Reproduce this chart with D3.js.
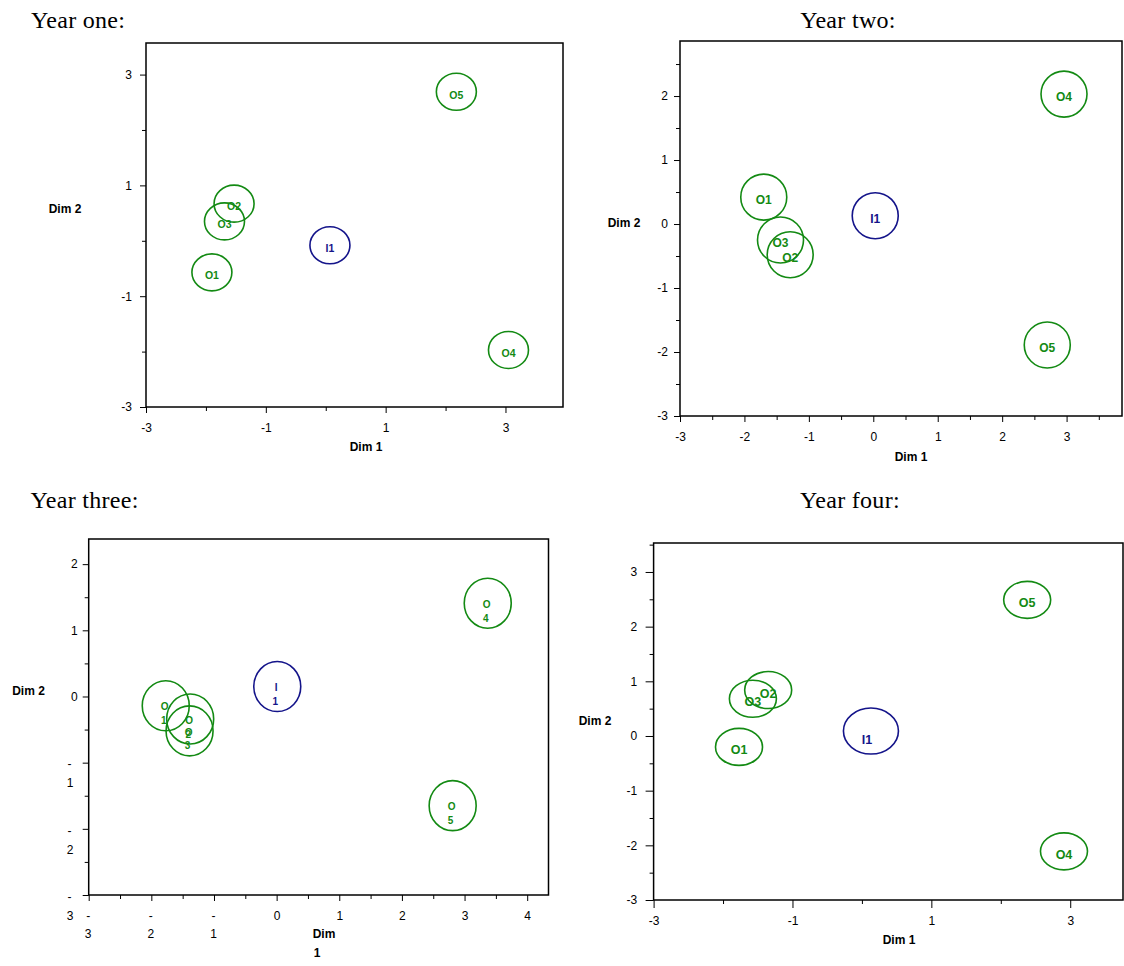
<!DOCTYPE html>
<html>
<head>
<meta charset="utf-8">
<script src="https://cdn.jsdelivr.net/npm/d3@7"></script>
<style>
  body { margin: 0; background: #fff; }
  svg { display: block; }
  .tick text, .wrap-label { font-family: "Liberation Sans", Arial, sans-serif; font-size: 12px; fill: #000; }
  .tick line { stroke: #000; }
  .axis-title { font-family: "Liberation Sans", Arial, sans-serif; font-size: 12px; font-weight: bold; }
  .year { font-family: "Liberation Serif", serif; font-size: 24px; letter-spacing: 0.3px; }
</style>
</head>
<body>
<svg id="chart" width="1124" height="966"></svg>
<script>
// points (same order in every year)
const names = ["I1", "O1", "O2", "O3", "O4", "O5"];

const year1X = [0.07, -1.90, -1.53, -1.69, 3.05, 2.18];
const year1Y = [-0.08, -0.57, 0.67, 0.35, -1.97, 2.69];
const year2X = [0.03, -1.70, -1.29, -1.44, 2.96, 2.70];
const year2Y = [0.13, 0.42, -0.48, -0.25, 2.03, -1.89];
const year3X = [0.01, -1.77, -1.38, -1.39, 3.37, 2.81];
const year3Y = [0.15, -0.14, -0.34, -0.52, 1.41, -1.65];
const year4X = [0.13, -1.77, -1.35, -1.57, 2.91, 2.38];
const year4Y = [0.09, -0.20, 0.84, 0.68, -2.11, 2.49];

// tick labels
const xTicks1 = [-3, -1, 1, 3];
const yTicks1 = [-3, -1, 1, 3];
const xMinor1 = [-2, 0, 2];
const yMinor1 = [-2, 0, 2];
const xTicks2 = [-3, -2, -1, 0, 1, 2, 3];
const yTicks2 = [-3, -2, -1, 0, 1, 2];
const xMinor2 = [-2.5, -1.5, -0.5, 0.5, 1.5, 2.5, 3.5];
const yMinor2 = [-2.5, -1.5, -0.5, 0.5, 1.5, 2.5];
const xTicks3 = [-3, -2, -1, 0, 1, 2, 3, 4];
const yTicks3 = [-3, -2, -1, 0, 1, 2];
const xMinor3 = [-2.5, -1.5, -0.5, 0.5, 1.5, 2.5, 3.5];
const yMinor3 = [-2.5, -1.5, -0.5, 0.5, 1.5];
const xTicks4 = [-3, -1, 1, 3];
const yTicks4 = [-3, -2, -1, 0, 1, 2, 3];
const xMinor4 = [-2, 0, 2];
const yMinor4 = [-2.5, -1.5, -0.5, 0.5, 1.5, 2.5, 3.5];

const green = "#138a13";
const navy = "#14148a";

const svg = d3.select("#chart");

const panels = [
  { title: "Year one:", xs: year1X, ys: year1Y, xTicks: xTicks1, yTicks: yTicks1, xMinor: xMinor1, yMinor: yMinor1,
    xMax: 3.96, yMax: 3.57, box: [146, 43, 563, 407], tick: 6, yPad: 8, r: [20, 18.5], fs: 10.5,
    titleAt: [31, 28, "start"], dim1: [366, 451], dim2: [65, 213] },
  { title: "Year two:", xs: year2X, ys: year2Y, xTicks: xTicks2, yTicks: yTicks2, xMinor: xMinor2, yMinor: yMinor2,
    xMax: 3.86, yMax: 2.86, box: [680, 41, 1122, 416], tick: 6, yPad: 6, r: [23, 23], fs: 12,
    titleAt: [848, 28, "middle"], dim1: [911, 461], dim2: [624, 227] },
  { title: "Year three:", xs: year3X, ys: year3Y, xTicks: xTicks3, yTicks: yTicks3, xMinor: xMinor3, yMinor: yMinor3,
    xMax: 4.34, yMax: 2.38, box: [88.7, 539, 548.5, 895], tick: 6, yPad: 5, r: [23.5, 25], fs: 10, wrap: true,
    titleAt: [30.5, 508, "start"], dim2: [28.5, 695] },
  { title: "Year four:", xs: year4X, ys: year4Y, xTicks: xTicks4, yTicks: yTicks4, xMinor: xMinor4, yMinor: yMinor4,
    xMax: 3.76, yMax: 3.53, box: [653.6, 543, 1123, 900], tick: 8, yPad: 8.5, r: [23.5, 18.5], fs: 12.5,
    titleAt: [850, 508, "middle"], dim1: [899, 944], dim2: [595, 725],
    big: { I1: [27.5, 23] }, nudge: { I1: [-4, 5] } }
];

function drawPanel(p) {
  const [L, T, R, B] = p.box;
  const g = svg.append("g");
  const x = d3.scaleLinear().domain([-3, p.xMax]).range([L, R]);
  const y = d3.scaleLinear().domain([-3, p.yMax]).range([B, T]);

  g.append("text").attr("class", "year")
    .attr("x", p.titleAt[0]).attr("y", p.titleAt[1]).attr("text-anchor", p.titleAt[2])
    .text(p.title);

  // minor ticks
  g.append("g").attr("transform", `translate(0,${B})`)
    .call(d3.axisBottom(x).tickValues(p.xMinor).tickSize(4).tickFormat(""))
    .call(a => a.select(".domain").remove());
  g.append("g").attr("transform", `translate(${L},0)`)
    .call(d3.axisLeft(y).tickValues(p.yMinor).tickSize(4).tickFormat(""))
    .call(a => a.select(".domain").remove());

  // major ticks
  const fmt = d => p.wrap && d < 0 ? "" : String(d);
  const xa = g.append("g").attr("transform", `translate(0,${B})`)
    .call(d3.axisBottom(x).tickValues(p.xTicks).tickSize(p.tick).tickPadding(21 - 4.3 - p.tick).tickFormat(fmt))
    .call(a => a.select(".domain").remove());
  const ya = g.append("g").attr("transform", `translate(${L},0)`)
    .call(d3.axisLeft(y).tickValues(p.yTicks).tickSize(p.tick).tickPadding(p.yPad).tickFormat(fmt))
    .call(a => a.select(".domain").remove());

  if (p.wrap) {
    // negative labels broken onto two lines
    xa.selectAll(".tick").filter(d => d < 0).each(function (d) {
      const t = d3.select(this);
      t.append("text").attr("class", "wrap-label").attr("text-anchor", "middle").attr("x", -1).attr("y", 25.3).text("-");
      t.append("text").attr("class", "wrap-label").attr("text-anchor", "middle").attr("x", -1).attr("y", 42.6).text(String(-d));
    });
    ya.selectAll(".tick").filter(d => d < 0).each(function (d) {
      const t = d3.select(this);
      t.append("text").attr("class", "wrap-label").attr("text-anchor", "middle").attr("x", -(L - 69.5)).attr("y", 5.3).text("-");
      t.append("text").attr("class", "wrap-label").attr("text-anchor", "middle").attr("x", -(L - 70)).attr("y", 24.3).text(String(-d));
    });
  }

  // frame
  g.append("rect").attr("x", L).attr("y", T).attr("width", R - L).attr("height", B - T)
    .attr("fill", "none").attr("stroke", "#000").attr("stroke-width", 1.5);

  // axis titles
  if (p.wrap) {
    g.append("text").attr("class", "axis-title").attr("x", 324).attr("y", 938.3).attr("text-anchor", "middle").text("Dim");
    g.append("text").attr("class", "axis-title").attr("x", 317).attr("y", 957).attr("text-anchor", "middle").text("1");
  } else {
    g.append("text").attr("class", "axis-title").attr("x", p.dim1[0]).attr("y", p.dim1[1]).attr("text-anchor", "middle").text("Dim 1");
  }
  g.append("text").attr("class", "axis-title").attr("x", p.dim2[0]).attr("y", p.dim2[1]).attr("text-anchor", "middle").text("Dim 2");

  const pts = names.map((n, i) => ({ name: n, x: p.xs[i], y: p.ys[i] }));
  const col = d => d.name[0] === "I" ? navy : green;
  const size = d => (p.big && p.big[d.name]) || p.r;

  g.selectAll("ellipse").data(pts).join("ellipse")
    .attr("cx", d => x(d.x)).attr("cy", d => y(d.y))
    .attr("rx", d => size(d)[0]).attr("ry", d => size(d)[1])
    .attr("fill", "none").attr("stroke", col).attr("stroke-width", 1.6);

  const lab = g.selectAll("g.lab").data(pts).join("g").attr("class", "lab")
    .attr("transform", d => {
      const nd = (p.nudge && p.nudge[d.name]) || [0, 0];
      return `translate(${x(d.x) + nd[0]},${y(d.y) + nd[1]})`;
    })
    .style("font-family", "'Liberation Sans', Arial, sans-serif")
    .style("font-weight", "bold").style("font-size", p.fs + "px")
    .attr("fill", col).attr("text-anchor", "middle");

  if (p.wrap) {
    lab.append("text").attr("x", -1).attr("y", 1 + p.fs * 0.36).text(d => d.name[0]);
    lab.append("text").attr("x", -2).attr("y", 15 + p.fs * 0.36).text(d => d.name.slice(1));
  } else {
    lab.append("text").attr("x", 0).attr("y", 3 + p.fs * 0.36).text(d => d.name);
  }
}

panels.forEach(drawPanel);
</script>
</body>
</html>
